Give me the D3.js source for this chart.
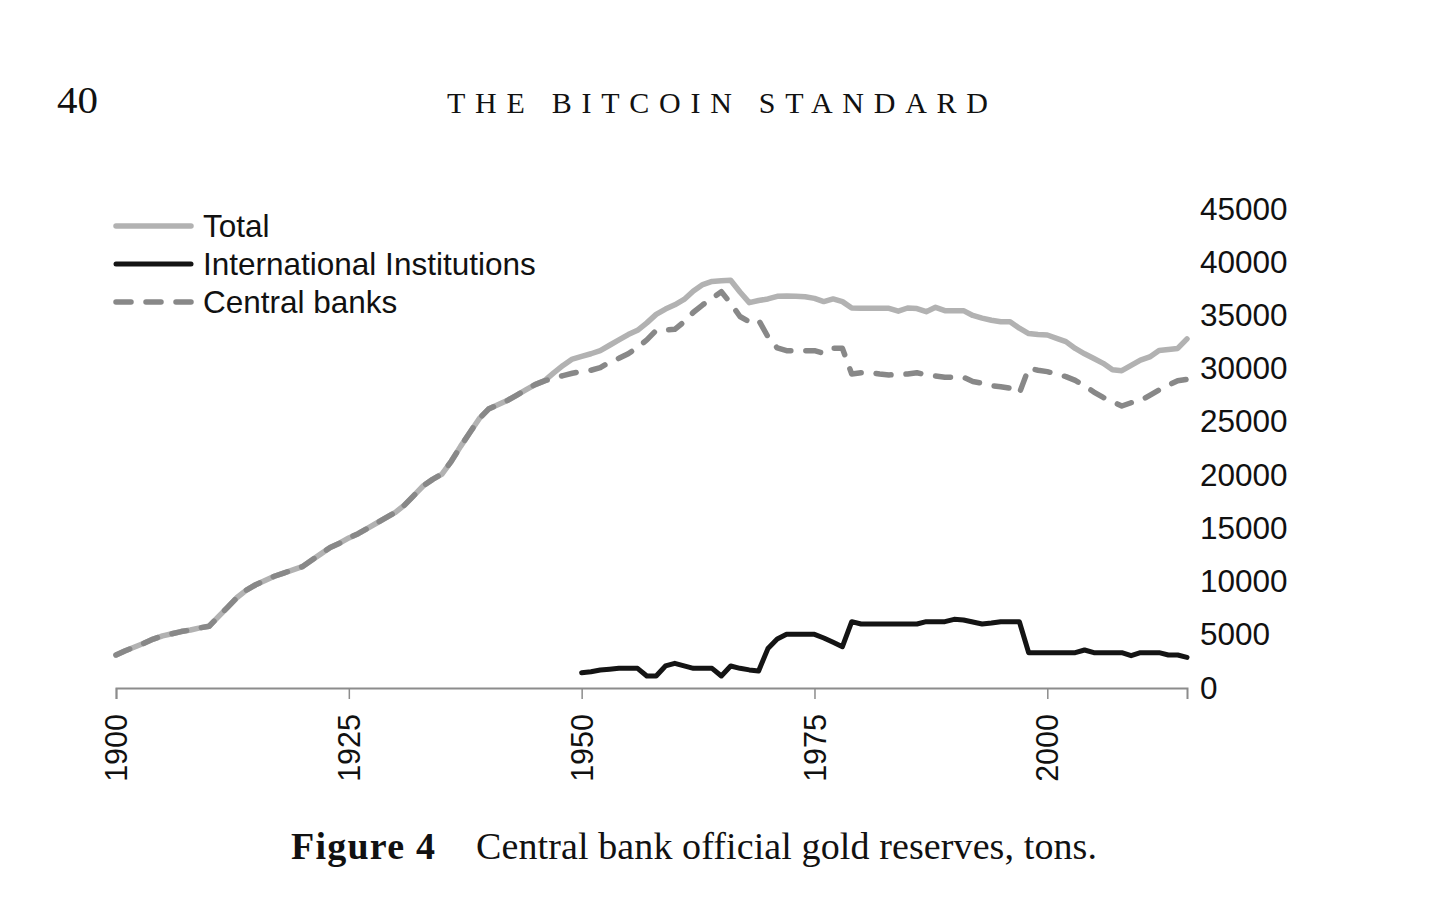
<!DOCTYPE html>
<html>
<head>
<meta charset="utf-8">
<script src="https://cdn.jsdelivr.net/npm/d3@7"></script>
<style>
  body { margin: 0; background: #fff; }
  svg { display: block; }
  .sans { font-family: "Liberation Sans", Arial, Helvetica, sans-serif; fill: #111; }
  .serif { font-family: "Liberation Serif", "Times New Roman", serif; fill: #111; }
</style>
</head>
<body>
<div id="chart"></div>
<script>
// Years on the x axis
var firstYear = 1900;
var lastYear = 2015;
var introYear = 1950; // first year of the International Institutions series

// Total official gold reserves, tons, 1900-2015
var totalValues = [
  3100, 3500, 3850, 4200, 4600, 4900, 5100, 5300, 5450, 5650,
  5800, 6700, 7600, 8500, 9200, 9700, 10100, 10500, 10800, 11100,
  11400, 12000, 12600, 13200, 13600, 14100, 14500, 15000, 15500, 16000,
  16500, 17200, 18100, 19000, 19600, 20100, 21300, 22700, 24000, 25300,
  26200, 26600, 27000, 27500, 28000, 28500, 28850, 29600, 30300, 30900,
  31150, 31400, 31700, 32200, 32700, 33200, 33600, 34300, 35100, 35600,
  36000, 36500, 37300, 37900, 38200, 38250, 38300, 37200, 36200, 36400,
  36550, 36800, 36830, 36800, 36760, 36600, 36300, 36550, 36300, 35700,
  35670, 35670, 35670, 35670, 35400, 35700, 35650, 35350, 35760, 35450,
  35450, 35450, 35000, 34750, 34550, 34400, 34400, 33800, 33300, 33200,
  33160, 32850, 32540, 31900, 31400, 30950, 30500, 29900, 29810, 30300,
  30800, 31100, 31700, 31800, 31900, 32800
];

// Central banks, tons, 1900-2015
var centralValues = [
  3100, 3500, 3850, 4200, 4600, 4900, 5100, 5300, 5450, 5650,
  5800, 6700, 7600, 8500, 9200, 9700, 10100, 10500, 10800, 11100,
  11400, 12000, 12600, 13200, 13600, 14100, 14500, 15000, 15500, 16000,
  16500, 17200, 18100, 19000, 19600, 20100, 21300, 22700, 24000, 25300,
  26200, 26600, 27000, 27500, 28000, 28500, 28850, 29100, 29350, 29570,
  29750, 29850, 30100, 30600, 30970, 31400, 32000, 32700, 33600, 33630,
  33700, 34400, 35300, 36000, 36600, 37230, 36140, 34900, 34410, 34570,
  33000, 31950, 31690, 31690, 31690, 31690, 31440, 31910, 31910, 29500,
  29620, 29620, 29500, 29410, 29450, 29500, 29620, 29400, 29310, 29200,
  29190, 29190, 28800, 28630, 28400, 28300, 28160, 27690, 30040, 29850,
  29720, 29500, 29250, 28900, 28400, 27800, 27300, 26900, 26490, 26800,
  27000, 27500, 28000, 28450, 28870, 29000
];

// International Institutions, tons, 1950-2015
var intlValues = [
  1440, 1530, 1690, 1770, 1850, 1850, 1850, 1130, 1130, 2070,
  2320, 2080, 1850, 1850, 1850, 1130, 2070, 1850, 1700, 1600,
  3700, 4600, 5040, 5040, 5040, 5040, 4700, 4300, 3880, 6230,
  6010, 6010, 6010, 6010, 6010, 6010, 6010, 6230, 6230, 6230,
  6450, 6390, 6200, 6010, 6100, 6230, 6230, 6230, 3320, 3320,
  3320, 3320, 3320, 3320, 3570, 3320, 3320, 3320, 3320, 3030,
  3320, 3320, 3320, 3100, 3100, 2880
];

var xTicks = [1900, 1925, 1950, 1975, 2000];
var yTicks = [0, 5000, 10000, 15000, 20000, 25000, 30000, 35000, 40000, 45000];

var legendNames = ['Total', 'International Institutions', 'Central banks'];

function toPoints(values, startYear) {
  return values.map(function (v, i) { return { year: startYear + i, value: v }; });
}

var width = 1456, height = 919;

var svg = d3.select('#chart').append('svg')
  .attr('width', width)
  .attr('height', height);

var x = d3.scaleLinear().domain([firstYear, lastYear]).range([116, 1187]);
var y = d3.scaleLinear().domain([0, 45000]).range([688, 209]);

// page header
svg.append('text').attr('class', 'serif')
  .attr('x', 57).attr('y', 113)
  .attr('textLength', 41).attr('lengthAdjust', 'spacingAndGlyphs')
  .style('font-size', '37px')
  .text('40');

svg.append('text').attr('class', 'serif')
  .attr('x', 447).attr('y', 113)
  .attr('textLength', 541).attr('lengthAdjust', 'spacing')
  .style('font-size', '30px')
  .text('THE BITCOIN STANDARD');

// x axis
var xAxis = svg.append('g')
  .attr('transform', 'translate(0,' + y(0) + ')')
  .call(d3.axisBottom(x).tickValues(xTicks).tickSizeOuter(0).tickSize(11).tickFormat(d3.format('d')));

xAxis.select('.domain').attr('stroke', '#8c8c8c').attr('stroke-width', 2);
xAxis.selectAll('.tick line').attr('stroke', '#8c8c8c').attr('stroke-width', 1.5);
xAxis.selectAll('.tick text')
  .attr('class', 'sans')
  .attr('transform', 'rotate(-90)')
  .attr('x', -26).attr('y', 0).attr('dy', '0.35em')
  .style('text-anchor', 'end')
  .style('font-size', '30.5px')
  .attr('fill', '#111');

// y axis labels, on the right, no line
var yAxis = svg.append('g')
  .attr('transform', 'translate(1200,0)')
  .call(d3.axisRight(y).tickValues(yTicks).tickSize(0).tickPadding(0).tickFormat(d3.format('d')));

yAxis.select('.domain').remove();
yAxis.selectAll('.tick text')
  .attr('class', 'sans')
  .attr('x', 0)
  .style('font-size', '31.5px')
  .attr('fill', '#111');

var line = d3.line()
  .x(function (d) { return x(d.year); })
  .y(function (d) { return y(d.value); });

var styles = [
  { color: '#b2b2b2', width: 5.5, dash: null },
  { color: '#141414', width: 5, dash: null },
  { color: '#888888', width: 5.5, dash: '15,15' }
];

// Total first, then central banks on top, then international institutions
svg.append('path')
  .datum(toPoints(totalValues, firstYear))
  .attr('d', line)
  .attr('fill', 'none')
  .attr('stroke', styles[0].color)
  .attr('stroke-width', styles[0].width)
  .attr('stroke-linejoin', 'round')
  .attr('stroke-linecap', 'round');

svg.append('path')
  .datum(toPoints(centralValues, firstYear))
  .attr('d', line)
  .attr('fill', 'none')
  .attr('stroke', styles[2].color)
  .attr('stroke-width', styles[2].width)
  .attr('stroke-dasharray', styles[2].dash)
  .attr('stroke-linejoin', 'round')
  .attr('stroke-linecap', 'round');

svg.append('path')
  .datum(toPoints(intlValues, introYear))
  .attr('d', line)
  .attr('fill', 'none')
  .attr('stroke', styles[1].color)
  .attr('stroke-width', styles[1].width)
  .attr('stroke-linejoin', 'round')
  .attr('stroke-linecap', 'round');

// legend
var legend = svg.append('g');
legendNames.forEach(function (name, i) {
  var ly = 226 + i * 38;
  legend.append('line')
    .attr('x1', 116).attr('x2', 191)
    .attr('y1', ly).attr('y2', ly)
    .attr('stroke', styles[i].color)
    .attr('stroke-width', styles[i].width)
    .attr('stroke-dasharray', styles[i].dash)
    .attr('stroke-linecap', 'round');
  legend.append('text')
    .attr('class', 'sans')
    .attr('x', 203).attr('y', ly)
    .attr('dy', '0.36em')
    .style('font-size', '31.5px')
    .text(name);
});

// caption
svg.append('text').attr('class', 'serif')
  .attr('x', 291).attr('y', 859)
  .attr('textLength', 144).attr('lengthAdjust', 'spacing')
  .style('font-size', '38px')
  .style('font-weight', 'bold')
  .text('Figure 4');

svg.append('text').attr('class', 'serif')
  .attr('x', 476).attr('y', 859)
  .attr('textLength', 621).attr('lengthAdjust', 'spacing')
  .style('font-size', '38px')
  .text('Central bank official gold reserves, tons.');
</script>
</body>
</html>
